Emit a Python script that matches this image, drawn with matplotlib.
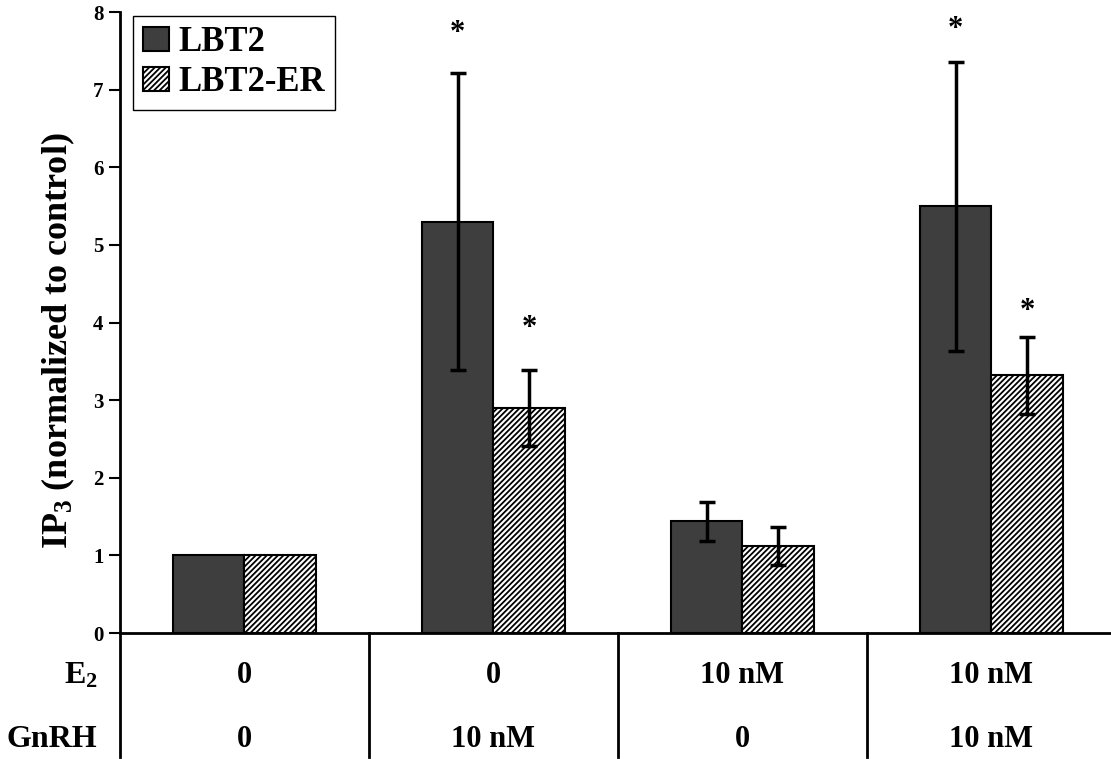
import numpy as np
import matplotlib
matplotlib.use('Agg')
import matplotlib.pyplot as plt
import matplotlib.transforms as mtransforms

plt.rcParams['font.family'] = ['Liberation Serif', 'DejaVu Serif']
plt.rcParams['font.weight'] = 'bold'
plt.rcParams['axes.labelweight'] = 'bold'
plt.rcParams['mathtext.fontset'] = 'custom'
plt.rcParams['mathtext.rm'] = 'Liberation Serif:bold'
plt.rcParams['mathtext.bf'] = 'Liberation Serif:bold'
plt.rcParams['mathtext.default'] = 'bf'
plt.rcParams['hatch.linewidth'] = 1.3

# IP3 levels, normalized to control
groups = np.arange(4)
lbt2 = [1.0, 5.30, 1.44, 5.50]
lbt2_err = [0, 1.91, 0.25, 1.86]
lbt2_er = [1.0, 2.90, 1.12, 3.32]
lbt2_er_err = [0, 0.49, 0.25, 0.50]

# significance stars (group, height)
stars_lbt2 = [(1, 7.73), (3, 7.77)]
stars_er = [(1, 3.93), (3, 4.14)]

e2_row = ['0', '0', '10 nM', '10 nM']
gnrh_row = ['0', '10 nM', '0', '10 nM']

w = 0.289

fig = plt.figure(figsize=(11.11, 7.59), dpi=100)
ax = fig.add_axes([0.108, 0.166, 0.892, 0.818])

ax.bar(groups - w/2, lbt2, w, color='#3e3e3e', edgecolor='black', linewidth=1.5,
       label='LBT2', zorder=2)
ax.bar(groups + w/2, lbt2_er, w, color='white', edgecolor='black', hatch='//////',
       linewidth=1.5, label='LBT2-ER', zorder=2)

# error bars (none for the control group)
m = np.array(lbt2_err) > 0
ax.errorbar(groups[m] - w/2, np.array(lbt2)[m], yerr=np.array(lbt2_err)[m], fmt='none',
            ecolor='black', elinewidth=2.5, capsize=6, capthick=2.5, zorder=3)
m = np.array(lbt2_er_err) > 0
ax.errorbar(groups[m] + w/2, np.array(lbt2_er)[m], yerr=np.array(lbt2_er_err)[m], fmt='none',
            ecolor='black', elinewidth=2.5, capsize=6, capthick=2.5, zorder=3)

for g, yy in stars_lbt2:
    ax.text(g - w/2, yy, '*', ha='center', va='center', fontsize=22)
for g, yy in stars_er:
    ax.text(g + w/2, yy, '*', ha='center', va='center', fontsize=22)

ax.set_ylim(0, 8)
ax.set_xlim(-0.5, 3.48)
ax.set_yticks(range(9))
ax.set_xticks([])
ax.tick_params(axis='y', direction='out', length=8, width=1.5, labelsize=15, pad=4)
for s in ['top', 'right']:
    ax.spines[s].set_visible(False)
ax.spines['left'].set_linewidth(2)
ax.spines['bottom'].set_linewidth(2)

ax.set_ylabel('IP$_3$ (normalized to control)', fontsize=26)
ax.yaxis.set_label_coords(-0.043, 0.47)

leg = ax.legend(loc='upper left', bbox_to_anchor=(0.006, 1.005), fontsize=25,
                frameon=True, fancybox=False, edgecolor='black', framealpha=1,
                handlelength=0.75, handleheight=0.7, handletextpad=0.25,
                borderpad=0.3, labelspacing=0.2, borderaxespad=0.2)
leg.get_frame().set_linewidth(1)

# treatment table under the axis
trans = mtransforms.blended_transform_factory(ax.transData, ax.transAxes)
for xv in [-0.5, 0.5, 1.5, 2.5]:
    ax.plot([xv, xv], [0, -0.2], color='black', lw=2, transform=trans, clip_on=False)
for g in groups:
    ax.text(g, -0.069, e2_row[g], ha='center', va='center', fontsize=22, transform=trans)
    ax.text(g, -0.172, gnrh_row[g], ha='center', va='center', fontsize=22, transform=trans)
ax.text(-0.59, -0.069, 'E$_2$', ha='right', va='center', fontsize=23, transform=trans)
ax.text(-0.59, -0.172, 'GnRH', ha='right', va='center', fontsize=23, transform=trans)

plt.savefig('out.png', dpi=100)
